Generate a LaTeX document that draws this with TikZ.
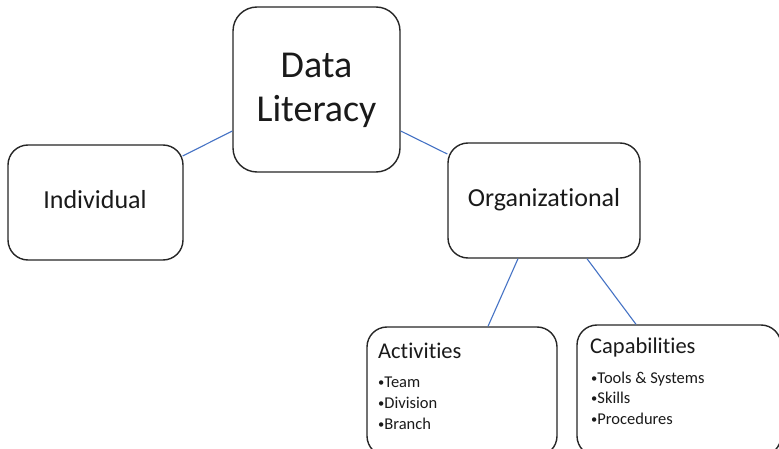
\documentclass[tikz,border=0pt]{standalone}
\usepackage{fontspec}
\setmainfont[Ligatures=NoCommon]{Carlito}
\usetikzlibrary{calc}
\definecolor{linkblue}{HTML}{4472C4}
\definecolor{boxline}{HTML}{262626}
\definecolor{txt}{HTML}{1A1A1A}
\newcommand{\bul}{{\fontsize{12.5}{12}\selectfont\raisebox{0.6pt}{•}}}
\tikzset{
  box/.style={draw=boxline, line width=1.4pt, fill=white, rounded corners=#1, inner sep=0pt, minimum width=0pt},
  box/.default=20pt,
  link/.style={draw=linkblue, line width=1.1pt},
  txt/.style={inner sep=0pt, text=txt},
  big/.style={txt, font=\fontsize{38}{44}\selectfont},
  mid/.style={txt, font=\fontsize{26}{30}\selectfont},
  sub/.style={txt, font=\fontsize{22.5}{26}\selectfont},
  item/.style={txt, font=\fontsize{16.5}{20}\selectfont},
}
\begin{document}
\begin{tikzpicture}[x=1pt,y=1pt]
\useasboundingbox (0,0) rectangle (779,-449);
\clip (0,0) rectangle (779,-449);
% boxes
\node[box=24pt, minimum width=167pt, minimum height=165pt] (dl) at (316.5,-89.5) {};
\node[box, minimum width=175pt, minimum height=115pt] (ind) at (95.5,-202.5) {};
\node[box, minimum width=192pt, minimum height=115pt] (org) at (544,-200.5) {};
\node[box, minimum width=190pt, minimum height=129pt] (act) at (462,-391.5) {};
\node[box, minimum width=204pt, minimum height=131pt] (cap) at (679,-390.5) {};
% connectors
\draw[link] ($(ind.east)+(-1,46.5)$) -- ($(dl.west)+(0,-41.5)$);
\draw[link] ($(dl.east)+(0,-41.5)$) -- ($(org.west)+(0,46.5)$);
\draw[link] ($(org.south)+(-26,0)$) -- ($(act.north)+(26,0)$);
\draw[link] ($(org.south)+(43,0)$) -- ($(cap.north)+(-43,0)$);
% texts
\node[big, anchor=base] (dlA) at (316.5,-78) {Data};
\node[big, anchor=base] (dlB) at (316.5,-122) {Literacy};
\node[mid, anchor=base] (indT) at (95,-209) {Individual};
\node[mid, anchor=base] (orgT) at (544,-207) {Organizational};
\node[sub, anchor=base west] (actT) at (378,-358) {Activities};
\node[item, anchor=base west] (act1) at (378,-387) {\bul Team};
\node[item, anchor=base west] (act2) at (378,-408) {\bul Division};
\node[item, anchor=base west] (act3) at (378,-429) {\bul Branch};
\node[sub, anchor=base west] (capT) at (590,-353) {Capabilities};
\node[item, anchor=base west] (cap1) at (591,-383) {\bul Tools \& Systems};
\node[item, anchor=base west] (cap2) at (591,-403) {\bul Skills};
\node[item, anchor=base west] (cap3) at (591,-424) {\bul Procedures};
\end{tikzpicture}
\end{document}
